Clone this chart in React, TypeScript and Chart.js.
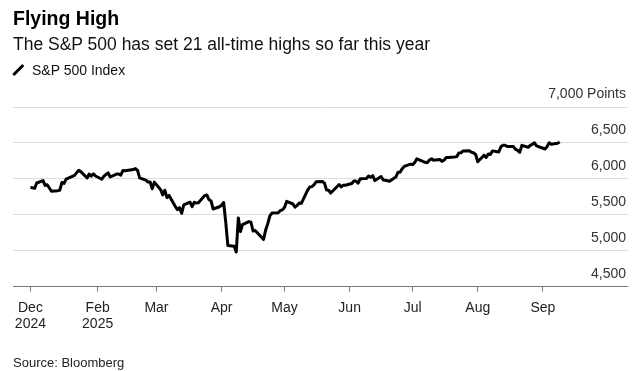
import React, { useEffect, useRef } from "react";
import { Chart, registerables } from "chart.js";

Chart.register(...registerables);

// ---- Data (S&P 500 daily closes) ----
const START_DATE = "2024-12-31";

const tradingDates: string[] = [
  "2024-12-31",
  "2025-01-02", "2025-01-03", "2025-01-06", "2025-01-07", "2025-01-08", "2025-01-10", "2025-01-13", "2025-01-14", "2025-01-15", "2025-01-16",
  "2025-01-17", "2025-01-21", "2025-01-22", "2025-01-23", "2025-01-24", "2025-01-27", "2025-01-28", "2025-01-29", "2025-01-30", "2025-01-31",
  "2025-02-03", "2025-02-04", "2025-02-05", "2025-02-06", "2025-02-07", "2025-02-10", "2025-02-11", "2025-02-12", "2025-02-13", "2025-02-14",
  "2025-02-18", "2025-02-19", "2025-02-20", "2025-02-21", "2025-02-24", "2025-02-25", "2025-02-26", "2025-02-27", "2025-02-28",
  "2025-03-03", "2025-03-04", "2025-03-05", "2025-03-06", "2025-03-07", "2025-03-10", "2025-03-11", "2025-03-12", "2025-03-13", "2025-03-14",
  "2025-03-17", "2025-03-18", "2025-03-19", "2025-03-20", "2025-03-21", "2025-03-24", "2025-03-25", "2025-03-26", "2025-03-27", "2025-03-28", "2025-03-31",
  "2025-04-01", "2025-04-02", "2025-04-03", "2025-04-04", "2025-04-07", "2025-04-08", "2025-04-09", "2025-04-10", "2025-04-11", "2025-04-14",
  "2025-04-15", "2025-04-16", "2025-04-17", "2025-04-21", "2025-04-22", "2025-04-23", "2025-04-24", "2025-04-25", "2025-04-28", "2025-04-29", "2025-04-30",
  "2025-05-01", "2025-05-02", "2025-05-05", "2025-05-06", "2025-05-07", "2025-05-08", "2025-05-09", "2025-05-12", "2025-05-13", "2025-05-14",
  "2025-05-15", "2025-05-16", "2025-05-19", "2025-05-20", "2025-05-21", "2025-05-22", "2025-05-23", "2025-05-27", "2025-05-28", "2025-05-29", "2025-05-30",
  "2025-06-02", "2025-06-03", "2025-06-04", "2025-06-05", "2025-06-06", "2025-06-09", "2025-06-10", "2025-06-11", "2025-06-12", "2025-06-13",
  "2025-06-16", "2025-06-17", "2025-06-18", "2025-06-20", "2025-06-23", "2025-06-24", "2025-06-25", "2025-06-26", "2025-06-27", "2025-06-30",
  "2025-07-01", "2025-07-02", "2025-07-03", "2025-07-07", "2025-07-08", "2025-07-09", "2025-07-10", "2025-07-11", "2025-07-14", "2025-07-15",
  "2025-07-16", "2025-07-17", "2025-07-18", "2025-07-21", "2025-07-22", "2025-07-23", "2025-07-24", "2025-07-25", "2025-07-28", "2025-07-29", "2025-07-30", "2025-07-31",
  "2025-08-01", "2025-08-04", "2025-08-05", "2025-08-06", "2025-08-07", "2025-08-08", "2025-08-11", "2025-08-12", "2025-08-13", "2025-08-14",
  "2025-08-15", "2025-08-18", "2025-08-19", "2025-08-20", "2025-08-21", "2025-08-22", "2025-08-25", "2025-08-26", "2025-08-27", "2025-08-28", "2025-08-29",
  "2025-09-02", "2025-09-03", "2025-09-04", "2025-09-05", "2025-09-08", "2025-09-09",
];

const closes: number[] = [
  5881.63,
  5868.55, 5942.47, 5975.38, 5909.03, 5918.25, 5827.04, 5836.22, 5842.91, 5949.91, 5937.34,
  5996.66, 6049.24, 6086.37, 6118.71, 6101.24, 6012.28, 6067.7, 6039.31, 6071.17, 6040.53,
  5994.57, 6037.88, 6061.48, 6083.57, 6025.99, 6066.44, 6068.5, 6051.97, 6115.07, 6114.63,
  6129.58, 6144.15, 6117.52, 6013.13, 5983.25, 5955.25, 5956.06, 5861.57, 5954.5,
  5849.72, 5778.15, 5842.63, 5738.52, 5770.2, 5614.56, 5572.07, 5599.3, 5521.52, 5638.94,
  5675.12, 5614.66, 5675.29, 5662.89, 5667.56, 5767.57, 5776.65, 5712.2, 5693.31, 5580.94, 5611.85,
  5633.07, 5670.97, 5396.52, 5074.08, 5062.25, 4982.77, 5456.9, 5268.05, 5363.36, 5405.97,
  5396.63, 5275.7, 5282.7, 5158.2, 5287.76, 5375.86, 5484.77, 5525.21, 5528.75, 5560.83, 5569.06,
  5604.14, 5686.67, 5650.38, 5606.91, 5631.28, 5663.94, 5659.91, 5844.19, 5886.55, 5892.58,
  5916.93, 5958.38, 5963.6, 5940.46, 5844.61, 5842.01, 5802.82, 5921.54, 5888.55, 5912.17, 5911.69,
  5935.94, 5970.37, 5970.81, 5939.3, 6000.36, 6005.88, 6038.81, 6022.24, 6045.26, 5976.97,
  6033.11, 5982.72, 5980.87, 5967.84, 6025.17, 6092.18, 6092.16, 6141.02, 6173.07, 6204.95,
  6198.01, 6227.42, 6279.35, 6229.98, 6225.52, 6263.26, 6280.46, 6259.75, 6268.56, 6243.76,
  6263.7, 6297.36, 6296.79, 6305.6, 6309.62, 6358.91, 6363.35, 6388.64, 6389.77, 6370.86, 6362.9, 6339.39,
  6238.01, 6329.94, 6299.19, 6345.06, 6340.0, 6389.45, 6373.45, 6445.76, 6466.58, 6468.54,
  6449.8, 6449.15, 6411.37, 6395.78, 6370.17, 6466.91, 6439.32, 6465.94, 6481.4, 6501.86, 6460.26,
  6415.54, 6448.26, 6502.08, 6481.5, 6495.15, 6512.61,
];

const xTickDates: string[] = [
  "2024-12-31", "2025-02-01", "2025-03-01", "2025-04-01", "2025-05-01",
  "2025-06-01", "2025-07-01", "2025-08-01", "2025-09-01",
];
const xTickLabels: string[][] = [
  ["Dec", "2024"], ["Feb", "2025"], ["Mar"], ["Apr"], ["May"],
  ["Jun"], ["Jul"], ["Aug"], ["Sep"],
];
const yTickValues: number[] = [4500, 5000, 5500, 6000, 6500, 7000];
const Y_MIN = 4500;
const Y_MAX = 7000;
const X_MIN_DAY = -8.3;
const X_MAX_DAY = 284.3;

const FONT = "'Liberation Sans', Arial, Helvetica, sans-serif";

const dayOf = (d: string) => (Date.parse(d) - Date.parse(START_DATE)) / 86400000;

export default function App() {
  const canvasRef = useRef<HTMLCanvasElement | null>(null);

  useEffect(() => {
    const canvas = canvasRef.current;
    if (!canvas) return;
    Chart.defaults.font.family = FONT;
    const points = tradingDates.map((d, i) => ({ x: dayOf(d), y: closes[i] }));
    const xTickDays = xTickDates.map(dayOf);

    const chart = new Chart(canvas, {
      type: "line",
      data: {
        datasets: [
          {
            label: "S&P 500 Index",
            data: points,
            borderColor: "#000",
            borderWidth: 3,
            pointRadius: 0,
            tension: 0,
            fill: false,
            borderJoinStyle: "round",
          },
        ],
      },
      options: {
        animation: false,
        responsive: false,
        maintainAspectRatio: false,
        layout: { padding: { top: 107, left: 13, right: 14.5, bottom: 0 } },
        plugins: { legend: { display: false }, tooltip: { enabled: false } },
        scales: {
          x: {
            type: "linear",
            position: "bottom",
            min: X_MIN_DAY,
            max: X_MAX_DAY,
            afterBuildTicks: (s: any) => {
              s.ticks = xTickDays.map((v) => ({ value: v }));
            },
            afterFit: (s: any) => {
              s.height = 371 - 286.7;
            },
            border: { display: true, color: "#777", width: 1 },
            grid: {
              display: true,
              drawOnChartArea: false,
              drawTicks: true,
              tickLength: 5,
              tickColor: "#777",
            },
            ticks: {
              autoSkip: false,
              maxRotation: 0,
              minRotation: 0,
              padding: 7.6,
              color: "#222",
              font: { size: 14, family: FONT },
              callback: (_v: any, i: number) => xTickLabels[i],
            },
          },
          y: {
            type: "linear",
            position: "right",
            min: Y_MIN,
            max: Y_MAX,
            afterBuildTicks: (s: any) => {
              s.ticks = yTickValues.map((v) => ({ value: v }));
            },
            afterFit: (s: any) => {
              s.width = 0;
            },
            border: { display: false },
            grid: { color: "#dddddd", lineWidth: 1, drawTicks: false },
            ticks: {
              mirror: true,
              padding: -1.5,
              labelOffset: -13,
              color: "#333",
              font: { size: 14, family: FONT },
              callback: (v: any) =>
                v === Y_MAX ? "7,000 Points" : Number(v).toLocaleString("en-US"),
            },
          },
        },
      },
    } as any);

    return () => chart.destroy();
  }, []);

  const abs = (o: React.CSSProperties): React.CSSProperties => ({
    position: "absolute",
    margin: 0,
    whiteSpace: "nowrap",
    fontFamily: FONT,
    ...o,
  });

  return (
    <div
      style={{
        position: "fixed",
        left: 0,
        top: 0,
        width: 642,
        height: 371,
        background: "#fff",
        overflow: "hidden",
      }}
    >
      <canvas
        ref={canvasRef}
        width={642}
        height={371}
        style={{ position: "absolute", left: 0, top: 0, width: 642, height: 371 }}
      />
      <div style={abs({ left: 13, top: 8.5, fontSize: 19.5, lineHeight: "19.5px", fontWeight: 700, color: "#000" })}>
        Flying High
      </div>
      <div style={abs({ left: 13, top: 36, fontSize: 17.5, lineHeight: "17.5px", color: "#111" })}>
        The S&amp;P 500 has set 21 all-time highs so far this year
      </div>
      <svg style={{ position: "absolute", left: 12, top: 63 }} width={13} height={14}>
        <line x1={1.3} y1={12} x2={11.3} y2={2} stroke="#000" strokeWidth={3} />
      </svg>
      <div style={abs({ left: 32, top: 63.2, fontSize: 14, lineHeight: "14px", color: "#111" })}>
        S&amp;P 500 Index
      </div>
      <div style={abs({ left: 13, top: 356, fontSize: 13, lineHeight: "13px", color: "#222" })}>
        Source: Bloomberg
      </div>
    </div>
  );
}
